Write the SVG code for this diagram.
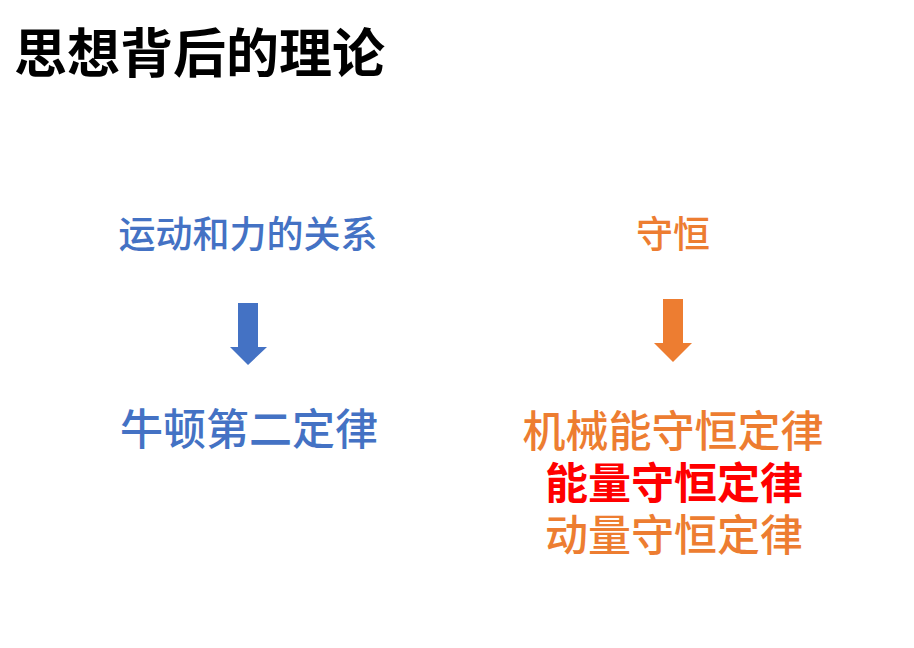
<svg xmlns="http://www.w3.org/2000/svg" width="914" height="648" viewBox="0 0 914 648">
<style>
text{font-family:"Noto Sans CJK SC","Noto Sans",sans-serif;text-anchor:middle;font-weight:500}
.blue{fill:#4472C4}
.orange{fill:#ED7D31}
.red{fill:#FF0000;font-weight:bold}
</style>
<rect width="914" height="648" fill="#FFFFFF"/>
<text x="14" y="73" style="text-anchor:start;font-size:53px;font-weight:bold" fill="#000000">思想背后的理论</text>
<g id="motion"><text class="blue" x="248" y="248" font-size="37">运动和力的关系</text></g>
<g id="newton"><text class="blue" x="249" y="445" font-size="43">牛顿第二定律</text></g>
<g id="conserve"><text class="orange" x="673" y="248" font-size="37">守恒</text></g>
<g id="laws">
<text class="orange" x="673" y="447" font-size="43">机械能守恒定律</text>
<text class="red" x="674" y="499" font-size="43">能量守恒定律</text>
<text class="orange" x="674" y="551" font-size="43">动量守恒定律</text>
</g>
<g id="connectors">
<polygon class="blue" points="238,303 258,303 258,347 267,347 248,365 230,347 238,347"/>
<polygon class="orange" points="663,299 683,299 683,343 692,343 673,362 654,343 663,343"/>
</g>
</svg>
